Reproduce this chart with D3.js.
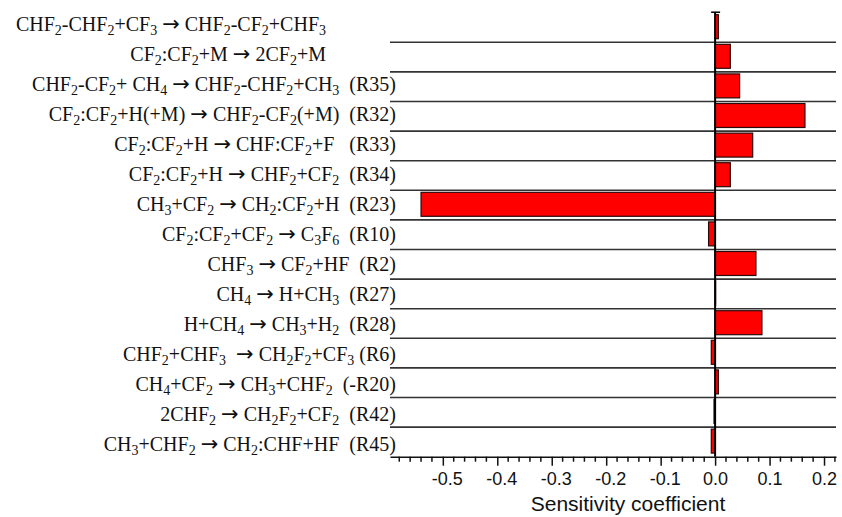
<!DOCTYPE html>
<html lang="en">
<head>
  <meta charset="UTF-8">
  <title>Sensitivity coefficients</title>
  <style>
    body { margin: 0; background: #fff; }
    .label { font-family: "Liberation Serif", "Times New Roman", serif; font-size: 20px; fill: #111; white-space: pre; }
    .label .arrow { font-family: "DejaVu Sans", sans-serif; font-size: 21px; }
    .row-line { stroke: #333; stroke-width: 1.6px; }
    .bar { fill: #ff0000; stroke: #2a0a0a; stroke-width: 1.2px; }
    .axis text { font-family: "Liberation Sans", Arial, sans-serif; font-size: 18px; fill: #111; }
    .axis path, .axis line { stroke: #111; stroke-width: 1.5px; }
    .title { font-family: "Liberation Sans", Arial, sans-serif; font-size: 21px; fill: #111; }
  </style>
</head>
<body>
  <div id="chart"></div>

  <script src="https://d3js.org/d3.v7.min.js"></script>
  <script>
    // reactions, top to bottom ("_n" = subscript digit)
    const reactions = [
      "CHF_2-CHF_2+CF_3 → CHF_2-CF_2+CHF_3",
      "CF_2:CF_2+M → 2CF_2+M",
      "CHF_2-CF_2+ CH_4 → CHF_2-CHF_2+CH_3  (R35)",
      "CF_2:CF_2+H(+M) → CHF_2-CF_2(+M)  (R32)",
      "CF_2:CF_2+H → CHF:CF_2+F   (R33)",
      "CF_2:CF_2+H → CHF_2+CF_2  (R34)",
      "CH_3+CF_2 → CH_2:CF_2+H  (R23)",
      "CF_2:CF_2+CF_2 → C_3F_6  (R10)",
      "CHF_3 → CF_2+HF  (R2)",
      "CH_4 → H+CH_3  (R27)",
      "H+CH_4 → CH_3+H_2  (R28)",
      "CHF_2+CHF_3  → CH_2F_2+CF_3 (R6)",
      "CH_4+CF_2 → CH_3+CHF_2  (-R20)",
      "2CHF_2 → CH_2F_2+CF_2  (R42)",
      "CH_3+CHF_2 → CH_2:CHF+HF  (R45)"
    ];

    // sensitivity coefficient per reaction
    const sensitivity = [0.006, 0.028, 0.045, 0.165, 0.069, 0.028, -0.540, -0.012,
                         0.075, 0.001, 0.086, -0.007, 0.006, -0.002, -0.007];

    const majorTicks = [-0.5, -0.4, -0.3, -0.2, -0.1, 0.0, 0.1, 0.2];
    const minorTicks = [-0.58, -0.56, -0.54, -0.52, -0.48, -0.46, -0.44, -0.42, -0.38, -0.36, -0.34, -0.32,
                        -0.28, -0.26, -0.24, -0.22, -0.18, -0.16, -0.14, -0.12, -0.08, -0.06, -0.04, -0.02,
                        0.02, 0.04, 0.06, 0.08, 0.12, 0.14, 0.16, 0.18, 0.22];

    const width = 842;
    const height = 517;
    const plotTop = 12.7, plotBottom = 456.7;

    const svg = d3.select("#chart")
      .append("svg")
      .attr("width", width)
      .attr("height", height);

    const rows = d3.range(reactions.length);

    const x = d3.scaleLinear().domain([-0.597, 0.222]).range([390, 836]);
    const y = d3.scaleBand().domain(rows).range([plotTop, plotBottom]);
    const yBar = d3.scaleBand().domain(rows).range([plotTop - 0.8, plotBottom - 0.8])
      .paddingInner(0.19).paddingOuter(0.095);
    const yLabel = d3.scalePoint().domain(rows).range([31, 451]);

    // row separators
    svg.selectAll(".row-line")
      .data(rows.slice(1))
      .enter().append("line")
      .attr("class", "row-line")
      .attr("x1", x.range()[0])
      .attr("x2", x.range()[1])
      .attr("y1", d => y(d))
      .attr("y2", d => y(d));

    // bars
    svg.selectAll(".bar")
      .data(sensitivity)
      .enter().append("rect")
      .attr("class", "bar")
      .attr("x", d => x(Math.min(0, d)))
      .attr("width", d => Math.abs(x(d) - x(0)))
      .attr("y", (d, i) => yBar(i))
      .attr("height", yBar.bandwidth());

    // zero line
    svg.append("line")
      .attr("x1", x(0)).attr("x2", x(0))
      .attr("y1", plotTop - 0.5).attr("y2", plotBottom)
      .attr("stroke", "#000").attr("stroke-width", 2);
    svg.append("line")
      .attr("x1", x(0) - 4).attr("x2", x(0) + 5)
      .attr("y1", plotTop - 0.5).attr("y2", plotTop - 0.5)
      .attr("stroke", "#000").attr("stroke-width", 1.5);

    // labels with subscripts and a wider arrow glyph
    function writeLabel(text, str) {
      const parts = str.split(/_(\d)|(→)/);
      let shifted = false;
      parts.forEach((p, i) => {
        if (!p) return;
        const t = text.append("tspan").text(p);
        if (i % 3 === 1) {
          t.attr("font-size", 14);
          if (!shifted) t.attr("dy", 4);
          shifted = true;
          return;
        }
        if (i % 3 === 2) t.attr("class", "arrow");
        if (shifted) {
          t.attr("dy", -4);
          shifted = false;
        }
      });
    }

    svg.selectAll(".label")
      .data(reactions)
      .enter().append("text")
      .attr("class", "label")
      .attr("text-anchor", "end")
      .attr("x", d => d.includes("(R") || d.includes("(-R") ? 396 : 326)
      .attr("y", (d, i) => yLabel(i))
      .each(function(d) { writeLabel(d3.select(this), d); });

    // x axis
    const axis = svg.append("g")
      .attr("class", "axis")
      .attr("transform", `translate(0,${plotBottom})`)
      .call(d3.axisBottom(x)
        .tickValues(majorTicks)
        .tickFormat(d => d.toFixed(1))
        .tickSizeInner(9)
        .tickSizeOuter(0)
        .tickPadding(7));
    axis.selectAll(".tick text")
      .attr("dx", d => d < 0 ? 4 : 0);

    axis.selectAll(".minor")
      .data(minorTicks)
      .enter().append("line")
      .attr("class", "minor")
      .attr("x1", d => x(d)).attr("x2", d => x(d))
      .attr("y1", 0).attr("y2", 5);

    svg.append("text")
      .attr("class", "title")
      .attr("x", 628)
      .attr("y", 511)
      .attr("text-anchor", "middle")
      .text("Sensitivity coefficient");
  </script>
</body>
</html>
